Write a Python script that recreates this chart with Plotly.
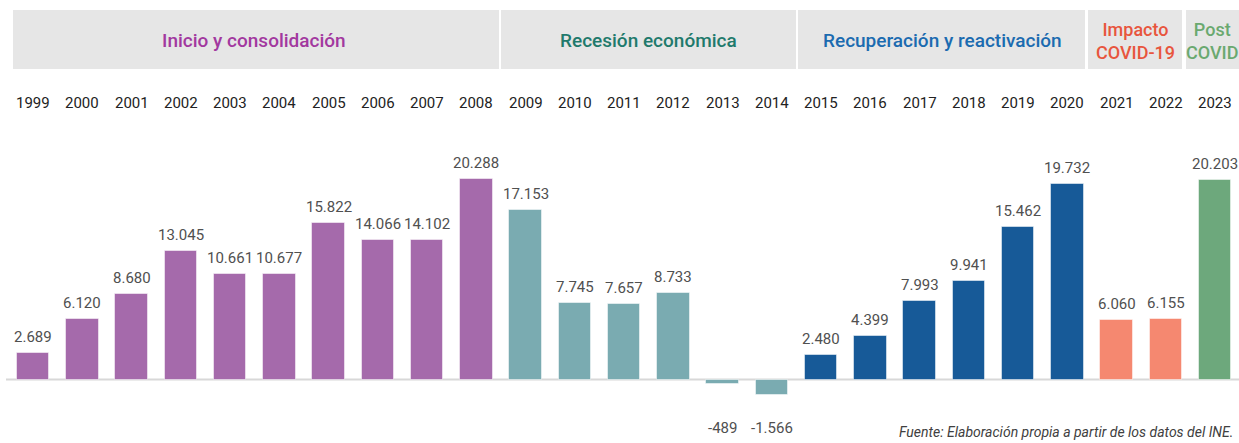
import plotly.graph_objects as go

years = [str(y) for y in range(1999, 2024)]
values = [2689, 6120, 8680, 13045, 10661, 10677, 15822, 14066, 14102, 20288,
          17153, 7745, 7657, 8733, -489, -1566,
          2480, 4399, 7993, 9941, 15462, 19732,
          6060, 6155, 20203]
phase_of_year = [0]*10 + [1]*6 + [2]*6 + [3]*2 + [4]
phase_names = ["Inicio y consolidación", "Recesión económica",
               "Recuperación y reactivación", "Impacto<br>COVID-19", "Post<br>COVID"]
bar_colors = ["#a56aab", "#7aabb1", "#175a98", "#f58870", "#6da87c"]
title_colors = ["#a2389f", "#1f7a6c", "#1b6bb0", "#e8553d", "#6aa96f"]

FONT = "Roboto, sans-serif"
W, H = 1239, 443

def fmt(v):
    return f"{v:,}".replace(",", ".")

fig = go.Figure()
fig.add_trace(go.Bar(
    x=list(range(len(years))), y=values,
    marker=dict(color=[bar_colors[p] for p in phase_of_year],
                line=dict(color="rgba(255,255,255,0.5)", width=1)),
    width=0.66, hoverinfo="skip", showlegend=False,
))

# px -> data mapping for x
x0_px, step_px = 33.0, 49.25
xr = [-x0_px / step_px, (W - x0_px) / step_px]
base_px, scale = 379.5, 200.5 / 20288
yr = [-(H - base_px) / scale, base_px / scale]

def px2x(p):
    return (p - x0_px) / step_px

annotations = []
for i, v in enumerate(values):
    if v >= 0:
        annotations.append(dict(x=i, y=v, text=fmt(v), showarrow=False, yanchor="bottom",
                                yshift=5, font=dict(family=FONT, size=15, color="#505050")))
    else:
        annotations.append(dict(x=i, y=0, text=fmt(v), showarrow=False, yanchor="middle",
                                yshift=-48, font=dict(family=FONT, size=15, color="#505050")))
    annotations.append(dict(x=i, y=1 - 103 / H, yref="paper", text=years[i], showarrow=False,
                            yanchor="middle", font=dict(family=FONT, size=15, color="#222222")))

# header band segments in px
segs = [(13, 499), (501, 796), (798, 1085), (1088, 1182), (1186, 1239)]
title_cx = [254, 648, 942, 1135, 1212]
title_size = [19, 19, 19, 18, 18]
shapes = []
for k, (a, b) in enumerate(segs):
    shapes.append(dict(type="rect", xref="x", yref="paper", x0=px2x(a), x1=px2x(b),
                       y0=1 - 69 / H, y1=1 - 10 / H, fillcolor="#e6e6e6", line=dict(width=0),
                       layer="below"))
    annotations.append(dict(x=px2x(title_cx[k]), y=1 - 41 / H, yref="paper", text=phase_names[k],
                            showarrow=False, yanchor="middle",
                            font=dict(family=FONT, size=title_size[k], color=title_colors[k],
                                      weight=500)))

shapes.append(dict(type="line", xref="x", yref="y", x0=px2x(6), x1=xr[1], y0=0, y1=0,
                   line=dict(color="#d8d8d8", width=2), layer="below"))

annotations.append(dict(x=1235 / W, y=1 - 442 / H, xref="paper", yref="paper",
                        text="<i>Fuente: Elaboración propia a partir de los datos del INE.</i>",
                        showarrow=False, xanchor="right", yanchor="bottom",
                        font=dict(family=FONT, size=14, color="#404040")))

fig.update_layout(
    width=W, height=H, margin=dict(l=0, r=0, t=0, b=0),
    paper_bgcolor="white", plot_bgcolor="white",
    xaxis=dict(range=xr, visible=False, fixedrange=True),
    yaxis=dict(range=yr, visible=False, fixedrange=True),
    shapes=shapes, annotations=annotations, bargap=0,
)
fig.write_html("out.html", config={"displayModeBar": False},
               post_script="document.body.style.margin='0';document.body.style.overflow='hidden';")
